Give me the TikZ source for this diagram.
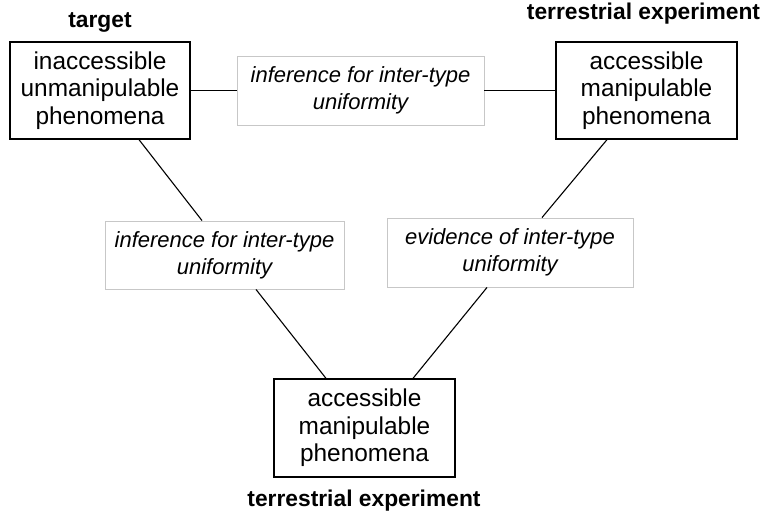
\documentclass[tikz,border=0pt]{standalone}
\usepackage{fontspec}
\setmainfont{Liberation Sans}
\begin{document}
\begin{tikzpicture}[x=1pt,y=-1pt,
  mainbox/.style={draw=black,line width=1.3pt,fill=white,inner sep=0pt,align=center,
    font=\fontsize{24.4}{27.5}\selectfont},
  linkbox/.style={draw=black!22,line width=0.9pt,fill=white,inner sep=0pt,align=center,
    font=\fontsize{22}{27}\selectfont\itshape},
  tag/.style={anchor=base,font=\fontsize{22.8}{27}\selectfont\bfseries,inner sep=0pt},
  conn/.style={line width=1.1pt,black}]
\useasboundingbox (0,0) rectangle (765,515);
\fill[white] (0,0) rectangle (765,515);
\node[mainbox,minimum width=180pt,minimum height=97pt] (target) at (100,90.5) {inaccessible\\unmanipulable\\phenomena};
\node[mainbox,minimum width=181pt,minimum height=97pt] (terr) at (646.5,90.5) {accessible\\manipulable\\phenomena};
\node[mainbox,minimum width=181pt,minimum height=98pt] (bottom) at (364.5,428) {accessible\\manipulable\\phenomena};
\node[linkbox,minimum width=247pt,minimum height=69pt] (topmid) at (360.5,90.5) {inference for inter-type\\uniformity};
\node[linkbox,minimum width=239pt,minimum height=68pt] (midleft) at (224.5,255) {inference for inter-type\\uniformity};
\node[linkbox,minimum width=246pt,minimum height=69pt] (midright) at (510,252.5) {evidence of inter-type\\uniformity};
\node[tag] (ltarget) at (100,27) {target};
\node[tag] (lterr) at (643.5,19) {terrestrial experiment};
\node[tag] (lbottom) at (364,506) {terrestrial experiment};
\draw[conn] (target.east) -- (topmid.west);
\draw[conn] (topmid.east) -- (terr.west);
\draw[conn] ([xshift=39pt]target.south) -- ([xshift=-22.5pt]midleft.north);
\draw[conn] ([xshift=31.5pt]midleft.south) -- ([xshift=-38.5pt]bottom.north);
\draw[conn] ([xshift=-39.5pt]terr.south) -- ([xshift=32pt]midright.north);
\draw[conn] ([xshift=-23pt]midright.south) -- ([xshift=48.5pt]bottom.north);
\end{tikzpicture}
\end{document}
